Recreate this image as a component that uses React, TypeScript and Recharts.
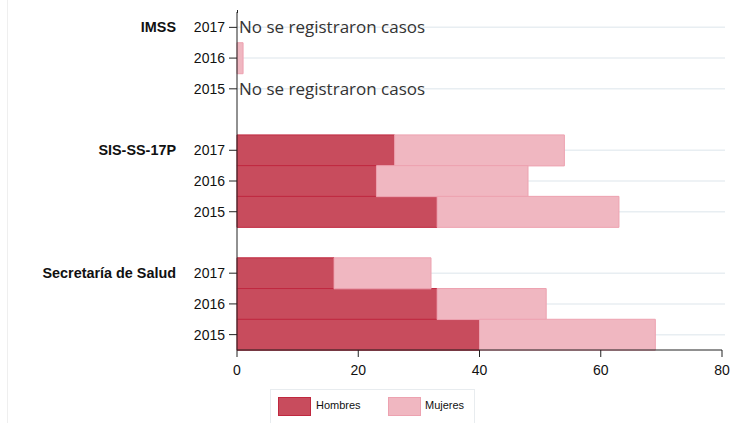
import { Bar, BarChart, CartesianGrid, XAxis, YAxis } from "recharts"

const grupos = ["IMSS", "SIS-SS-17P", "Secretaría de Salud"]
const anios = ["2017", "2016", "2015"]
const hombres = [
  [0, 0, 0],
  [26, 23, 33],
  [16, 33, 40],
]
const mujeres = [
  [0, 1, 0],
  [28, 25, 30],
  [16, 18, 29],
]
const xTicks = [0, 20, 40, 60, 80]
const sinCasos = "No se registraron casos"

const colorHombres = "#c84c5d"
const bordeHombres = "#c0283f"
const colorMujeres = "#f0b7c1"
const bordeMujeres = "#eda2b0"

type Row = {
  key: string
  grupo: string
  anio: string
  gap: boolean
  first: boolean
  vacio: boolean
  hombres: number | null
  mujeres: number | null
}

const rows: Row[] = []
grupos.forEach((g, gi) => {
  if (gi > 0) {
    rows.push({ key: `gap-${gi}`, grupo: "", anio: "", gap: true, first: false, vacio: false, hombres: null, mujeres: null })
  }
  anios.forEach((a, ai) => {
    const h = hombres[gi][ai]
    const m = mujeres[gi][ai]
    rows.push({
      key: `${g}-${a}`,
      grupo: g,
      anio: a,
      gap: false,
      first: ai === 0,
      vacio: h + m === 0,
      hombres: h,
      mujeres: m,
    })
  })
})

function YearTick(props: any) {
  const { x, y, payload } = props
  const row = rows.find((r) => r.key === payload.value)
  if (!row || row.gap) return null
  return (
    <g>
      <line x1={x - 8} x2={x} y1={y} y2={y} stroke="#222" strokeWidth={1} />
      <text x={x - 12} y={y} dy={5} textAnchor="end" fontSize={14} fill="#111">
        {row.anio}
      </text>
      {row.first && (
        <text x={176} y={y} dy={5} textAnchor="end" fontSize={14.4} fontWeight="bold" fill="#111">
          {row.grupo}
        </text>
      )}
      {row.vacio && (
        <text x={x + 2} y={y} dy={6} fontSize={17} fontFamily="'Open Sans', sans-serif" fill="#333">
          {sinCasos}
        </text>
      )}
    </g>
  )
}

function GridLine(props: any) {
  const { x1, x2, y1, y2, index } = props
  const row = rows[index]
  if (!row || row.gap) return null
  return <line key={`g-${index}`} x1={x1} x2={x2 + 3} y1={y1} y2={y2} stroke="#e8eef2" strokeWidth={1.5} />
}

export default function App() {
  return (
    <div
      style={{
        position: "absolute",
        left: 0,
        top: 0,
        width: 732,
        height: 423,
        background: "#fff",
        fontFamily: "'Liberation Sans', Arial, sans-serif",
        overflow: "hidden",
      }}
    >
      <div style={{ position: "absolute", left: 7, top: 0, width: 1, height: 423, background: "#efefef" }} />
      <div style={{ position: "absolute", left: 237, top: 10, width: 1, height: 3, background: "#222" }} />
      <BarChart
        width={732}
        height={423}
        data={rows}
        layout="vertical"
        barCategoryGap={0}
        margin={{ top: 12, right: 10, bottom: 43, left: 0 }}
      >
        <CartesianGrid vertical={false} horizontal={GridLine} />
        <XAxis
          type="number"
          domain={[0, 80]}
          ticks={xTicks}
          tickSize={7}
          tickMargin={8}
          height={30}
          stroke="#222"
          tick={{ fontSize: 14, fill: "#111" }}
        />
        <YAxis
          type="category"
          dataKey="key"
          width={237}
          interval={0}
          tickSize={0}
          tickMargin={0}
          tickLine={false}
          stroke="#222"
          tick={<YearTick />}
        />
        <Bar
          dataKey="hombres"
          name="Hombres"
          stackId="a"
          fill={colorHombres}
          stroke={bordeHombres}
          strokeWidth={1}
          isAnimationActive={false}
        />
        <Bar
          dataKey="mujeres"
          name="Mujeres"
          stackId="a"
          fill={colorMujeres}
          stroke={bordeMujeres}
          strokeWidth={1}
          isAnimationActive={false}
        />
      </BarChart>
      <div
        style={{
          position: "absolute",
          left: 270,
          top: 389,
          width: 203,
          height: 40,
          border: "1px solid #e8ecef",
          fontSize: 11,
          color: "#111",
        }}
      >
        <div style={{ position: "absolute", left: 7, top: 7, width: 31, height: 17, background: colorHombres, border: `1px solid ${bordeHombres}` }} />
        <div style={{ position: "absolute", left: 45, top: 9 }}>Hombres</div>
        <div style={{ position: "absolute", left: 117, top: 7, width: 31, height: 17, background: colorMujeres, border: `1px solid ${bordeMujeres}` }} />
        <div style={{ position: "absolute", left: 154, top: 9 }}>Mujeres</div>
      </div>
    </div>
  )
}
